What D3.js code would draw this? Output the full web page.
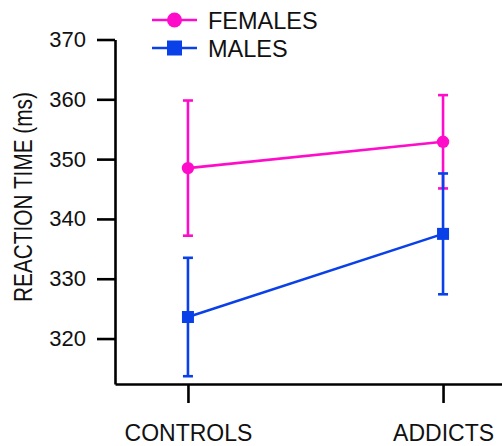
<!DOCTYPE html>
<html><head><meta charset="utf-8">
<script src="https://cdn.jsdelivr.net/npm/d3@7"></script>
<style>body{margin:0;background:#fff}svg{display:block}</style>
</head><body>
<script>
const groups = ["CONTROLS", "ADDICTS"];
const seriesNames = ["FEMALES", "MALES"];
const femalesMean = [348.5, 352.9];
const femalesErr = [11.3, 7.8];
const malesMean = [323.6, 337.5];
const malesErr = [9.9, 10.1];
const yTicks = [320, 330, 340, 350, 360, 370];

const W = 502, H = 446;
const colors = {FEMALES: "#ff0ccb", MALES: "#0a40e8"};
const font = "'Liberation Sans', Arial, sans-serif";

const svg = d3.select("body").append("svg").attr("width", W).attr("height", H);

const y = d3.scaleLinear().domain([312.4, 370]).range([384, 39.5]);
const x = d3.scalePoint().domain(groups).range([115, 516]).padding(0.286);

const yAxis = svg.append("g").attr("transform", "translate(115,0)")
  .call(d3.axisLeft(y).tickValues(yTicks).tickSize(18).tickSizeOuter(0).tickPadding(11).tickFormat(d3.format("d")));
yAxis.selectAll("path,line").attr("stroke", "#000").attr("stroke-width", 2.6);
yAxis.selectAll("text").attr("font-family", font).attr("font-size", 22).attr("fill", "#111");

const xAxis = svg.append("g").attr("transform", "translate(0,384)")
  .call(d3.axisBottom(x).tickSize(19).tickSizeOuter(0).tickPadding(21.5));
xAxis.selectAll("path,line").attr("stroke", "#000").attr("stroke-width", 2.6);
xAxis.selectAll("text").attr("font-family", font).attr("font-size", 23).attr("fill", "#111");

svg.append("text").attr("transform", "translate(32,197) scale(1.25,1) rotate(-90)")
  .attr("text-anchor", "middle").attr("font-family", font).attr("font-size", 20.8).attr("fill", "#111")
  .text("REACTION TIME (ms)");

const series = [
  {name: "FEMALES", mean: femalesMean, err: femalesErr, shape: "circle"},
  {name: "MALES", mean: malesMean, err: malesErr, shape: "square"}
];

const line = d3.line().x((d, i) => x(groups[i])).y(d => y(d));

series.forEach(s => {
  const c = colors[s.name];
  const g = svg.append("g");
  g.append("path").datum(s.mean).attr("d", line).attr("fill", "none").attr("stroke", c).attr("stroke-width", 2.6);
  s.mean.forEach((m, i) => {
    const cx = x(groups[i]);
    const lo = y(m - s.err[i]), hi = y(m + s.err[i]);
    g.append("line").attr("x1", cx).attr("x2", cx).attr("y1", lo).attr("y2", hi).attr("stroke", c).attr("stroke-width", 2.6);
    [lo, hi].forEach(v => g.append("line").attr("x1", cx - 5).attr("x2", cx + 5).attr("y1", v).attr("y2", v).attr("stroke", c).attr("stroke-width", 2.6));
    if (s.shape === "circle") g.append("circle").attr("cx", cx).attr("cy", y(m)).attr("r", 6.2).attr("fill", c);
    else g.append("rect").attr("x", cx - 6).attr("y", y(m) - 6).attr("width", 12).attr("height", 12).attr("fill", c);
  });
});

// legend
const leg = svg.append("g");
series.forEach((s, i) => {
  const c = colors[s.name];
  const ly = 20 + i * 28;
  leg.append("line").attr("x1", 152).attr("x2", 197).attr("y1", ly).attr("y2", ly).attr("stroke", c).attr("stroke-width", 2.6);
  if (s.shape === "circle") leg.append("circle").attr("cx", 174.5).attr("cy", ly).attr("r", 7.5).attr("fill", c);
  else leg.append("rect").attr("x", 167).attr("y", ly - 7.5).attr("width", 15).attr("height", 15).attr("fill", c);
  leg.append("text").attr("x", 208).attr("y", ly + 1).attr("dy", "0.36em")
    .attr("font-family", font).attr("font-size", 23.5).attr("fill", "#111").text(s.name);
});
</script>
</body></html>
